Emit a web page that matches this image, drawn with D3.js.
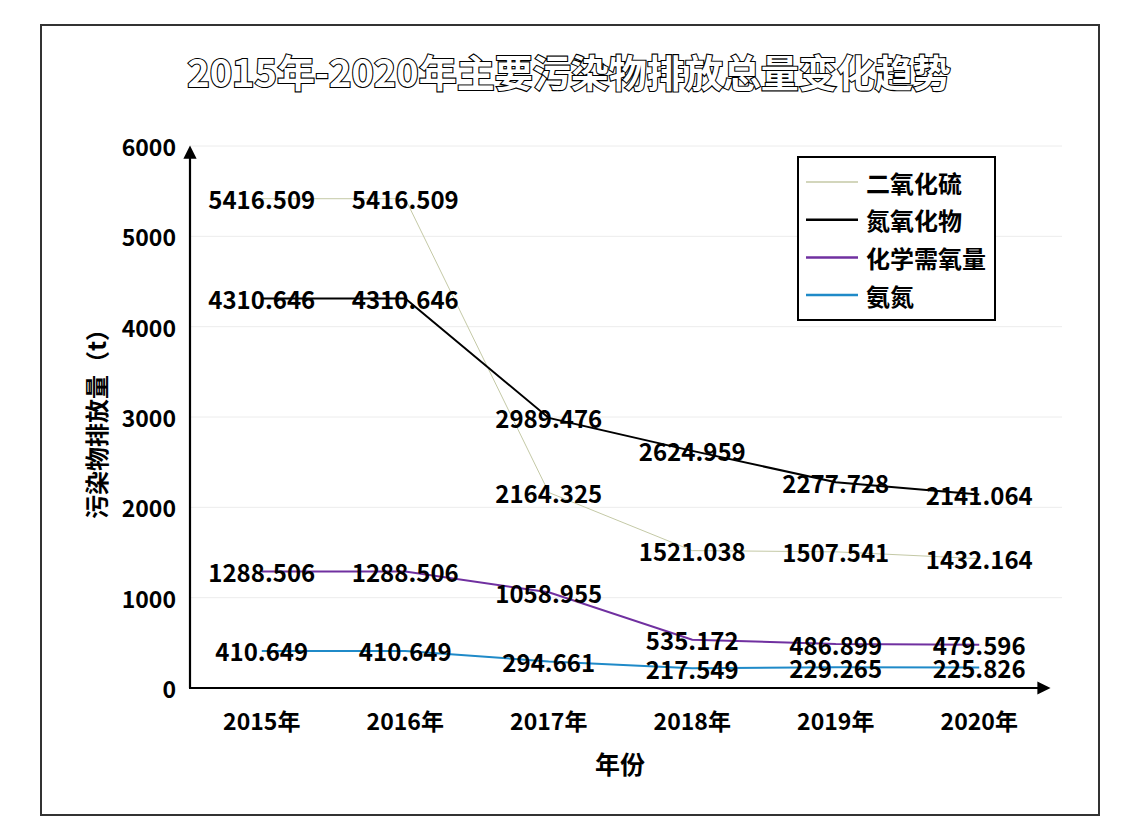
<!DOCTYPE html>
<meta charset="utf-8">
<style>
body{ margin:0; background:#fff; }
text{ font-family:"Noto Sans CJK SC","Noto Sans",sans-serif; font-weight:bold; fill:#000; }
.grid line{ stroke:#ececec; stroke-width:1px; }
.lbl{ font-size:24px; text-anchor:middle; dominant-baseline:central; }
.tick{ font-size:23px; }
.title{ font-size:38px; font-weight:bold; fill:#fff; stroke:#000; stroke-width:2.2px; paint-order:stroke; }
</style>
<body>
<script src="https://d3js.org/d3.v7.min.js"></script>
<script>

var years=["2015年","2016年","2017年","2018年","2019年","2020年"];
var so2=[5416.509,5416.509,2164.325,1521.038,1507.541,1432.164];
var nox=[4310.646,4310.646,2989.476,2624.959,2277.728,2141.064];
var cod=[1288.506,1288.506,1058.955,535.172,486.899,479.596];
var nh3=[410.649,410.649,294.661,217.549,229.265,225.826];
var names=["二氧化硫","氮氧化物","化学需氧量","氨氮"];
var colors=["#c4c9a6","#000000","#7030a0","#1f8ac8"];
var widths=[1,2,2,2];
var yTicks=[0,1000,2000,3000,4000,5000,6000];

var series=[so2,nox,cod,nh3];

var svg=d3.select("body").append("svg").attr("width",1132).attr("height",838);

svg.append("rect").attr("x",41).attr("y",25).attr("width",1058).attr("height",790)
	.attr("fill","#fff").attr("stroke","#333").attr("stroke-width",2);

var x=d3.scaleBand().domain(years).range([190,1051]);
var y=d3.scaleLinear().domain([0,6000]).range([688,146]);

// gridlines
svg.append("g").attr("class","grid").selectAll("line").data(yTicks.slice(1)).enter().append("line")
	.attr("x1",190).attr("x2",1062).attr("y1",d=>y(d)).attr("y2",d=>y(d));

// axes with arrows
var defs=svg.append("defs");
defs.append("marker").attr("id","arr").attr("viewBox","0 0 10 10").attr("refX",2).attr("refY",5)
	.attr("markerWidth",6).attr("markerHeight",6).attr("orient","auto")
	.append("path").attr("d","M0,0L10,5L0,10z").attr("fill","#000");

svg.append("line").attr("x1",190).attr("y1",y(0)).attr("x2",190).attr("y2",y(6000)+10)
	.attr("stroke","#000").attr("stroke-width",2.2).attr("marker-end","url(#arr)");
svg.append("line").attr("x1",189).attr("y1",y(0)).attr("x2",1040).attr("y2",y(0))
	.attr("stroke","#000").attr("stroke-width",2.2).attr("marker-end","url(#arr)");

// tick labels
svg.append("g").selectAll("text").data(yTicks).enter().append("text").attr("class","tick")
	.attr("x",176).attr("y",d=>y(d)).attr("text-anchor","end").attr("dominant-baseline","central")
	.text(d=>d);
svg.append("g").selectAll("text").data(years).enter().append("text").attr("class","tick")
	.attr("x",d=>x(d)+x.bandwidth()/2).attr("y",720).attr("text-anchor","middle").attr("dominant-baseline","central")
	.text(d=>d);

// lines
var line=d3.line().x((d,i)=>x(years[i])+x.bandwidth()/2).y(d=>y(d));
series.forEach(function(s,k){
	svg.append("path").datum(s).attr("d",line).attr("fill","none")
		.attr("stroke",colors[k]).attr("stroke-width",widths[k]);
});

// value labels
series.forEach(function(s){
	svg.append("g").selectAll("text").data(s).enter().append("text").attr("class","lbl")
		.attr("x",(d,i)=>x(years[i])+x.bandwidth()/2).attr("y",d=>y(d))
		.text(d=>d3.format(".3f")(d));
});

// titles
svg.append("text").attr("class","title").attr("x",569).attr("y",70).attr("text-anchor","middle")
	.attr("dominant-baseline","central").text("2015年-2020年主要污染物排放总量变化趋势");
svg.append("text").attr("x",620).attr("y",763).attr("text-anchor","middle").attr("dominant-baseline","central")
	.style("font-size","25px").text("年份");
svg.append("text").attr("transform","translate(95,418) rotate(-90)").attr("text-anchor","middle")
	.attr("dominant-baseline","central").style("font-size","24px").text("污染物排放量（t）");

// legend
var lg=svg.append("g");
lg.append("rect").attr("x",798).attr("y",157).attr("width",197).attr("height",163)
	.attr("fill","#fff").attr("stroke","#000").attr("stroke-width",2);
names.forEach(function(n,k){
	var ly=182+k*37.7;
	lg.append("line").attr("x1",806).attr("x2",858).attr("y1",ly).attr("y2",ly)
		.attr("stroke",colors[k]).attr("stroke-width",widths[k]+0.5);
	lg.append("text").attr("x",866).attr("y",ly).attr("dominant-baseline","central")
		.style("font-size","24px").text(n);
});

</script>
</body>
